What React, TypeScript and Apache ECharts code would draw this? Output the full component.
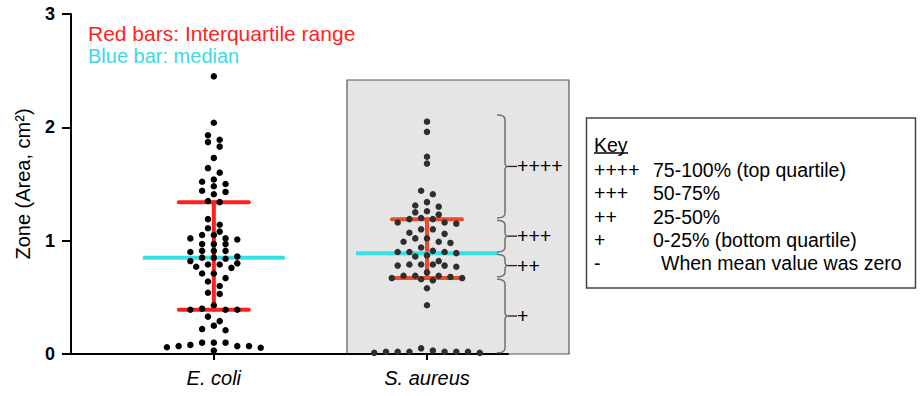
import React, { useEffect, useRef } from "react";
import * as echarts from "echarts";

// ---------- data ----------
const categories = ["E. coli", "S. aureus"];
const categoryX = [1, 2];

const eColiZones = [
  2.45, 2.04, 1.93, 1.89, 1.87, 1.83, 1.73, 1.64, 1.6, 1.54, 1.52, 1.5, 1.48, 1.44, 1.43, 1.41, 1.35, 1.34,
  1.19, 1.14, 1.11, 1.08, 1.05, 1.05, 1.02, 1.02, 1.01, 0.97, 0.97, 0.97, 0.91, 0.91, 0.91, 0.9, 0.86, 0.85,
  0.85, 0.84, 0.82, 0.8, 0.79, 0.79, 0.77, 0.76, 0.71, 0.71,
  0.67, 0.64, 0.6, 0.54, 0.53, 0.43, 0.4, 0.39, 0.39, 0.39, 0.33, 0.29, 0.25, 0.22, 0.21,
  0.1, 0.06, 0.08, 0.07, 0.07, 0.1, 0.03, 0.07, 0.055, 0.1,
];

const sAureusZones = [
  2.05, 1.96, 1.74, 1.68, 1.44, 1.41, 1.34, 1.31, 1.3, 1.26, 1.25, 1.23, 1.2, 1.19, 1.19, 1.16, 1.16, 1.15,
  1.1, 1.1, 1.07, 1.06, 1.02, 1.02, 0.99, 0.99, 0.98, 0.94, 0.91, 0.9, 0.9, 0.9, 0.89, 0.87, 0.86, 0.82,
  0.79, 0.79, 0.79, 0.78, 0.78, 0.77, 0.72, 0.69, 0.69, 0.69, 0.68, 0.67, 0.67, 0.66, 0.65, 0.58, 0.43,
  0.02, 0.05, 0.02, 0.03, 0.01, 0.02, 0.02, 0.02, 0.01, 0.02,
];

const lowerQuartiles = [0.39, 0.67];
const medians = [0.85, 0.89];
const upperQuartiles = [1.34, 1.19];

const yTicks = [0, 1, 2, 3];
const yTitle = "Zone (Area, cm²)";

const braceBounds = [2.12, 1.19, 0.89, 0.67, 0];
const braceLabels = ["++++", "+++", "++", "+"];

const legendLines = ["Red bars: Interquartile range", "Blue bar: median"];
const keyTitle = "Key";
const keySymbols = ["++++", "+++", "++", "+", "-"];
const keyTexts = [
  "75-100% (top quartile)",
  "50-75%",
  "25-50%",
  "0-25% (bottom quartile)",
  "When mean value was zero",
];

// ---------- style ----------
const FONT = "'Liberation Sans', Arial, Helvetica, sans-serif";
const COL_W = 0.055; // horizontal step between dots (x-axis units)
const ROW_H = 0.055; // values closer than this share a row
const RED = ["#ff1f1f", "#ec4b2c"];
const CYAN = "#33e0e6";
const DOT = ["#000000", "#2e2e2e"];

function beeswarm(values: number[], xc: number): number[][] {
  const sorted = [...values].sort((a, b) => b - a);
  const rows: number[][] = [];
  let cur: number[] = [];
  for (const v of sorted) {
    if (cur.length && cur[0] - v > ROW_H) {
      rows.push(cur);
      cur = [];
    }
    cur.push(v);
  }
  if (cur.length) rows.push(cur);
  const pts: number[][] = [];
  for (const row of rows) {
    const n = row.length;
    const offs = Array.from({ length: n }, (_, i) => i - (n - 1) / 2).sort(
      (a, b) => Math.abs(a) - Math.abs(b) || a - b
    );
    row.forEach((v, i) => pts.push([xc + offs[i] * COL_W, v]));
  }
  return pts;
}

function quad(p0: number[], c: number[], p1: number[], n = 8): number[][] {
  const out: number[][] = [];
  for (let i = 0; i <= n; i++) {
    const t = i / n;
    const a = (1 - t) * (1 - t);
    const b = 2 * (1 - t) * t;
    const d = t * t;
    out.push([a * p0[0] + b * c[0] + d * p1[0], a * p0[1] + b * c[1] + d * p1[1]]);
  }
  return out;
}

export default function App() {
  const ref = useRef<HTMLDivElement>(null);

  useEffect(() => {
    if (!ref.current) return;
    const chart = echarts.init(ref.current, undefined, { renderer: "svg" });

    const iqrData = categoryX.map((x, i) => [x, lowerQuartiles[i], medians[i], upperQuartiles[i]]);
    const braceData = braceLabels.map((_, i) => [categoryX[1], braceBounds[i], braceBounds[i + 1]]);

    const graphic: any[] = [
      {
        type: "rect",
        z: -10,
        shape: { x: 347, y: 80, width: 222, height: 274 },
        style: { fill: "#e5e5e5", stroke: "#555", lineWidth: 1.2 },
      },
      ...legendLines.map((t, i) => ({
        type: "text",
        z: 10,
        x: 88,
        y: 33 + i * 23,
        style: {
          text: t,
          fill: i === 0 ? "#ff1f1f" : "#40d8e2",
          font: `${i === 0 ? 21 : 20}px ${FONT}`,
          verticalAlign: "middle",
          align: "left",
        },
      })),
      {
        type: "rect",
        z: 10,
        shape: { x: 586.5, y: 118, width: 329, height: 170 },
        style: { fill: "#fff", stroke: "#444", lineWidth: 1.5 },
      },
      {
        type: "text",
        z: 11,
        x: 594,
        y: 145,
        style: { text: keyTitle, fill: "#000", font: `19.5px ${FONT}`, verticalAlign: "middle" },
      },
      {
        type: "line",
        z: 11,
        shape: { x1: 594, y1: 153, x2: 628, y2: 153 },
        style: { stroke: "#000", lineWidth: 1.3 },
      },
      ...keySymbols.map((s, i) => ({
        type: "text",
        z: 11,
        x: 594,
        y: 170 + i * 23.3,
        style: { text: s, fill: "#000", font: `19.5px ${FONT}`, verticalAlign: "middle" },
      })),
      ...keyTexts.map((s, i) => ({
        type: "text",
        z: 11,
        x: i === 4 ? 661 : 653,
        y: 170 + i * 23.3,
        style: { text: s, fill: "#000", font: `19.5px ${FONT}`, verticalAlign: "middle" },
      })),
    ];

    const option: any = {
      animation: false,
      backgroundColor: "#fff",
      textStyle: { fontFamily: FONT },
      grid: { left: 71, right: 412, top: 14, bottom: 42 },
      xAxis: {
        type: "value",
        min: 0.33,
        max: 2.38,
        splitLine: { show: false },
        axisLine: { show: true, lineStyle: { color: "#000", width: 2 } },
        axisTick: { show: true, customValues: categoryX, length: 6, lineStyle: { color: "#000", width: 2 } },
        axisLabel: {
          customValues: categoryX,
          formatter: (v: number) => categories[categoryX.indexOf(Math.round(v))] ?? "",
          color: "#000",
          fontSize: 20,
          fontStyle: "italic",
          fontFamily: FONT,
          margin: 14,
        },
      },
      yAxis: {
        type: "value",
        min: 0,
        max: 3,
        interval: 1,
        splitLine: { show: false },
        axisLine: { show: true, lineStyle: { color: "#000", width: 2 } },
        axisTick: { show: true, length: 9, lineStyle: { color: "#000", width: 2 } },
        axisLabel: {
          show: true,
          color: "#000",
          fontSize: 18,
          fontWeight: "bold",
          fontFamily: FONT,
          margin: 16,
          formatter: (v: number) => (yTicks.includes(v) ? String(v) : ""),
        },
        name: yTitle,
        nameLocation: "middle",
        nameGap: 38,
        nameTextStyle: { color: "#000", fontSize: 20, fontFamily: FONT },
      },
      graphic,
      series: [
        {
          type: "custom",
          name: "IQR",
          z: 3,
          clip: false,
          data: iqrData,
          renderItem: (params: any, api: any) => {
            const x = api.value(0);
            const pLo = api.coord([x, api.value(1)]);
            const pMed = api.coord([x, api.value(2)]);
            const pHi = api.coord([x, api.value(3)]);
            const red = RED[params.dataIndex];
            const rs = { stroke: red, lineWidth: 4, lineCap: "round" };
            return {
              type: "group",
              children: [
                { type: "line", shape: { x1: pLo[0], y1: pLo[1], x2: pHi[0], y2: pHi[1] }, style: rs },
                { type: "line", shape: { x1: pHi[0] - 35, y1: pHi[1], x2: pHi[0] + 35, y2: pHi[1] }, style: rs },
                { type: "line", shape: { x1: pLo[0] - 35, y1: pLo[1], x2: pLo[0] + 35, y2: pLo[1] }, style: rs },
                {
                  type: "line",
                  shape: { x1: pMed[0] - 71, y1: pMed[1], x2: pMed[0] + 71, y2: pMed[1] },
                  style: { stroke: CYAN, lineWidth: 4 },
                },
              ],
            };
          },
        },
        {
          type: "scatter",
          name: categories[0],
          z: 5,
          symbol: "circle",
          symbolSize: 6.5,
          itemStyle: { color: DOT[0], opacity: 1 },
          data: beeswarm(eColiZones, categoryX[0]),
        },
        {
          type: "scatter",
          name: categories[1],
          z: 5,
          symbol: "circle",
          symbolSize: 6.5,
          itemStyle: { color: DOT[1], opacity: 1 },
          data: beeswarm(sAureusZones, categoryX[1]),
        },
        {
          type: "custom",
          name: "Braces",
          z: 4,
          clip: false,
          data: braceData,
          renderItem: (params: any, api: any) => {
            const x = api.value(0);
            const pTop = api.coord([x, api.value(1)]);
            const pBot = api.coord([x, api.value(2)]);
            const xb = pTop[0] + 78;
            const yT = pTop[1] + 1.2;
            const yB = pBot[1] - 1.2;
            const yM = (yT + yB) / 2;
            const pts = [
              ...quad([xb - 8, yT], [xb, yT], [xb, yT + 5]),
              ...quad([xb, yM - 4], [xb, yM], [xb + 3, yM]),
              ...quad([xb + 3, yM], [xb, yM], [xb, yM + 4]).slice(1),
              ...quad([xb, yB - 5], [xb, yB], [xb - 8, yB]),
            ];
            return {
              type: "group",
              children: [
                {
                  type: "polyline",
                  shape: { points: pts },
                  style: { stroke: "#707070", lineWidth: 1.5, fill: null },
                },
                {
                  type: "line",
                  shape: { x1: xb + 3, y1: yM, x2: xb + 12, y2: yM },
                  style: { stroke: "#222", lineWidth: 1.3 },
                },
                {
                  type: "text",
                  x: xb + 12,
                  y: yM,
                  style: {
                    text: braceLabels[params.dataIndex],
                    fill: "#000",
                    font: `19.5px ${FONT}`,
                    verticalAlign: "middle",
                    align: "left",
                  },
                },
              ],
            };
          },
        },
      ],
    };

    chart.setOption(option);
    return () => chart.dispose();
  }, []);

  return (
    <div
      ref={ref}
      style={{ position: "fixed", left: 0, top: 0, width: 920, height: 396, background: "#fff" }}
    />
  );
}
